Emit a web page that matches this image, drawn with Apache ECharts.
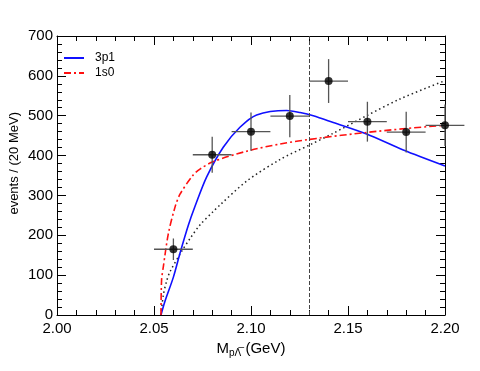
<!DOCTYPE html>
<html>
<head>
<meta charset="utf-8">
<script src="https://cdn.jsdelivr.net/npm/echarts@6/dist/echarts.min.js"></script>
<style>
  html, body { margin: 0; padding: 0; background: #fff; }
  #chart { width: 480px; height: 371px; }
</style>
</head>
<body>
<div id="chart"></div>
<script>
// data points (bin centres, events, errors)
var massBins = [2.06, 2.08, 2.10, 2.12, 2.14, 2.16, 2.18, 2.20];
var events = [165, 402, 460, 499, 587, 485, 459, 476];
var eventErr = [27, 45, 48, 53, 55, 50, 51, 52];
var binHalfWidth = 0.01;

// 3p1 fit curve
var curve3p1X = [2.0536, 2.0557, 2.0600, 2.0634, 2.0677, 2.0711, 2.0771, 2.0857, 2.0943, 2.1029, 2.1184, 2.1253, 2.1321, 2.1424, 2.1596, 2.1785, 2.2000];
var curve3p1Y = [0, 35, 95, 155, 225, 272, 346, 421, 471, 502, 513, 508, 500, 483, 454, 414, 374];

// 1s0 fit curve
var curve1s0X = [2.0536, 2.0539, 2.0548, 2.0574, 2.0608, 2.0634, 2.0700, 2.0737, 2.0806, 2.0978, 2.1149, 2.1338, 2.1596, 2.1802, 2.2000];
var curve1s0Y = [0, 87, 121, 204, 270, 303, 350, 366, 385, 411, 429, 443, 458, 468, 476];

// phase space (dotted)
var phaseX = [2.0536, 2.0548, 2.0565, 2.0582, 2.0643, 2.0686, 2.0737, 2.0806, 2.0840, 2.0978, 2.1149, 2.1304, 2.1424, 2.1596, 2.1768, 2.2000];
var phaseY = [0, 50, 85, 108, 160, 192, 226, 260, 276, 336, 390, 427, 456, 500, 542, 588];

var thresholdSigma = 2.1314;

var xTickLabels = ['2.00', '2.05', '2.10', '2.15', '2.20'];

function zip(xs, ys) {
  var out = [];
  for (var i = 0; i < xs.length; i++) out.push([xs[i], ys[i]]);
  return out;
}

var pointData = [];
for (var i = 0; i < massBins.length; i++) {
  pointData.push([massBins[i], events[i], eventErr[i]]);
}

var chart = echarts.init(document.getElementById('chart'));

var fontFam = '"Liberation Sans", Arial, sans-serif';

function frameAxis(extra) {
  var ax = {
    type: 'value',
    axisLine: { show: true, onZero: false, lineStyle: { color: '#000', width: 1 } },
    axisTick: { show: true, inside: true, length: 9, lineStyle: { color: '#000' } },
    minorTick: { show: true, splitNumber: 5, length: 5, lineStyle: { color: '#000' } },
    splitLine: { show: false }
  };
  for (var k in extra) ax[k] = extra[k];
  return ax;
}

var option = {
  animation: false,
  backgroundColor: '#fff',
  textStyle: { fontFamily: fontFam },
  grid: { left: 57, right: 35, top: 36, bottom: 56 },
  legend: {
    orient: 'vertical',
    left: 58,
    top: 47,
    itemWidth: 20,
    itemHeight: 14,
    itemGap: 3,
    itemStyle: { opacity: 0 },
    textStyle: { fontSize: 12, color: '#000', fontFamily: fontFam, padding: [0, 0, 0, 6] },
    data: ['3p1', '1s0']
  },
  xAxis: [
    frameAxis({
      min: 2.0, max: 2.2, interval: 0.05,
      name: '{m|M}{s|p\u039B\u0305}{m|\u00a0(GeV)}',
      nameLocation: 'middle',
      nameGap: 22,
      nameTextStyle: {
        rich: {
          m: { fontSize: 15, color: '#000', fontFamily: fontFam },
          s: { fontSize: 10, color: '#000', fontFamily: fontFam, verticalAlign: 'bottom', padding: [10, 0, 0, 0] }
        }
      },
      axisLabel: {
        fontSize: 15, color: '#000', margin: 6,
        formatter: function (v) {
          var idx = Math.round((v - 2.0) / 0.05);
          return xTickLabels[idx] || '';
        }
      }
    }),
    frameAxis({
      position: 'top', min: 2.0, max: 2.2, interval: 0.05,
      axisLabel: { show: false }
    })
  ],
  yAxis: [
    frameAxis({
      min: 0, max: 700, interval: 100,
      axisLabel: { fontSize: 15, color: '#000', margin: 4 }
    }),
    frameAxis({
      position: 'right', min: 0, max: 700, interval: 100,
      axisLabel: { show: false }
    })
  ],
  graphic: [{
    type: 'text',
    left: 8,
    top: 112,
    rotation: Math.PI / 2,
    style: {
      text: 'events / (20 MeV)',
      fontSize: 13,
      fontFamily: fontFam,
      fill: '#000'
    }
  }],
  series: [
    {
      name: 'phase space',
      type: 'line',
      data: zip(phaseX, phaseY),
      symbol: 'none',
      smooth: 0.3,
      lineStyle: { color: '#222', width: 1.5, type: [1.5, 3] },
      z: 2,
      markLine: {
        silent: true,
        symbol: 'none',
        label: { show: false },
        lineStyle: { color: '#444', width: 1, type: [4, 2] },
        data: [{ xAxis: thresholdSigma }]
      }
    },
    {
      name: '3p1',
      type: 'line',
      data: zip(curve3p1X, curve3p1Y),
      symbol: 'none',
      smooth: 0.3,
      color: '#1010ff',
      lineStyle: { color: '#1010ff', width: 1.6 },
      z: 3
    },
    {
      name: '1s0',
      type: 'line',
      data: zip(curve1s0X, curve1s0Y),
      symbol: 'none',
      smooth: 0.3,
      color: '#ff1010',
      lineStyle: { color: '#ff1010', width: 1.6, type: [7, 3, 2, 3] },
      z: 3
    },
    {
      name: 'errors',
      type: 'custom',
      data: pointData,
      z: 4,
      renderItem: function (params, api) {
        var x = api.value(0), y = api.value(1), e = api.value(2);
        var left = api.coord([x - binHalfWidth, y]);
        var right = api.coord([x + binHalfWidth, y]);
        var top = api.coord([x, y + e]);
        var bottom = api.coord([x, y - e]);
        var style = { stroke: '#555', lineWidth: 1.3 };
        return {
          type: 'group',
          children: [
            { type: 'line', shape: { x1: left[0], y1: left[1], x2: right[0], y2: right[1] }, style: style },
            { type: 'line', shape: { x1: top[0], y1: top[1], x2: bottom[0], y2: bottom[1] }, style: style }
          ]
        };
      }
    },
    {
      name: 'data',
      type: 'scatter',
      data: zip(massBins, events),
      symbol: 'circle',
      symbolSize: 8,
      itemStyle: { color: '#000' },
      z: 5
    }
  ]
};

chart.setOption(option);
</script>
</body>
</html>
